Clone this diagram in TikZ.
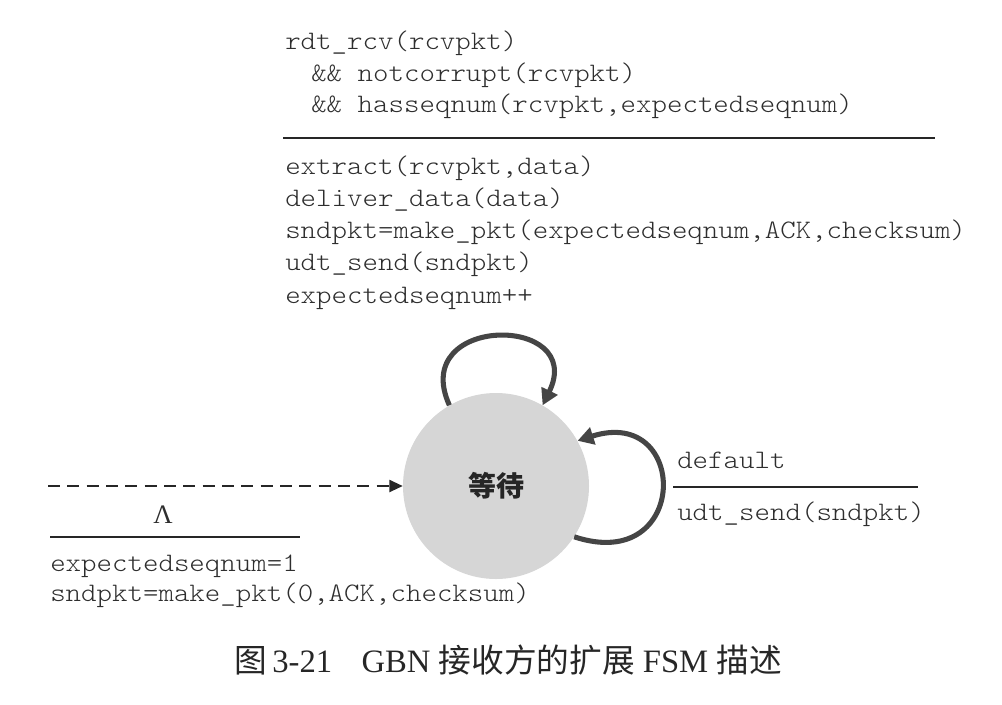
\documentclass[tikz,border=0pt]{standalone}
\usepackage{fontspec}
\setmainfont{Liberation Serif}
\setmonofont{lmmonolt10-regular.otf}[FakeStretch=1.105]
\newfontfamily\cjk{Noto Sans CJK SC}
\usetikzlibrary{arrows.meta}
\definecolor{ink}{HTML}{2E2E2E}
\definecolor{loopc}{HTML}{454545}
\definecolor{statefill}{HTML}{D6D6D6}
\begin{document}
\begin{tikzpicture}[x=0.75pt,y=-0.75pt,
  code/.style={font=\ttfamily\fontsize{20}{24}\selectfont, text=ink, anchor=base west, inner sep=0pt},
  rule/.style={line width=1.5pt, draw=black!85},
  selfloop/.style={line width=3.8pt, draw=loopc, -{Triangle[length=12pt,width=13pt]}},
  initarrow/.style={line width=1.5pt, draw=black!85, dash pattern=on 9pt off 5.5pt, -{Triangle[length=10pt,width=9pt]}},
  state/.style={circle, fill=statefill, minimum size=139.5pt, inner sep=0pt, font=\cjk\bfseries\fontsize{21}{24}\selectfont, text=black!85}]
\useasboundingbox (0,0) rectangle (1002,704);
% top transition label
\node[code] (g1) at (285,49) {rdt\_rcv(rcvpkt)};
\node[code] (g2) at (311,81) {\&\& notcorrupt(rcvpkt)};
\node[code] (g3) at (311,112) {\&\& hasseqnum(rcvpkt,expectedseqnum)};
\coordinate (t1) at (283,138);
\coordinate (t2) at (935,138);
\draw[rule] (t1) -- (t2);
\node[code] (a1) at (285,174) {extract(rcvpkt,data)};
\node[code] (a2) at (285,206) {deliver\_data(data)};
\node[code] (a3) at (285,238) {sndpkt=make\_pkt(expectedseqnum,ACK,checksum)};
\node[code] (a4) at (285,270) {udt\_send(sndpkt)};
\node[code] (a5) at (285,303) {expectedseqnum++};
% state
\node[state] (s) at (496,486) {等待};
\draw[selfloop] (s.120) .. controls (408,314) and (587,314) .. (s.60);
\draw[selfloop] (s.-33) .. controls (690,575) and (690,405) .. (s.29);
% initial arrow
\coordinate (d0) at (48,486);
\draw[initarrow] (d0) -- (s.west);
\node[text=ink, font=\fontsize{20}{24}\selectfont] (lam) at (163,515) {Λ};
\coordinate (l1) at (50,537);
\coordinate (l2) at (300,537);
\draw[rule] (l1) -- (l2);
\node[code] (e1) at (50,571) {expectedseqnum=1};
\node[code] (e2) at (50,601) {sndpkt=make\_pkt(0,ACK,checksum)};
% right transition label
\node[code] (r1) at (677,468) {default};
\coordinate (m1) at (673,487);
\coordinate (m2) at (918,487);
\draw[rule] (m1) -- (m2);
\node[code] (r2) at (677,520) {udt\_send(sndpkt)};
% caption
\node[font=\fontsize{24.5}{28}\selectfont, text=black!85] (cap) at (508,660)
  {{\cjk 图}\,3-21\hspace{22pt}GBN {\cjk 接收方的扩展} FSM {\cjk 描述}};
\end{tikzpicture}
\end{document}
